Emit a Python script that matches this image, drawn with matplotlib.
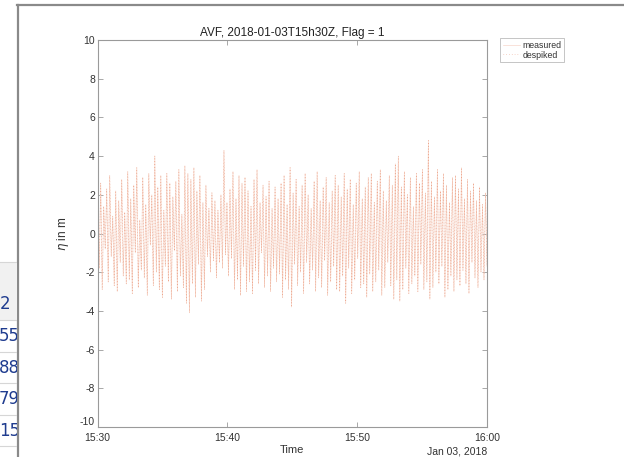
import matplotlib
matplotlib.use("Agg")
import matplotlib.pyplot as plt
import matplotlib.dates as mdates
import numpy as np
import pandas as pd

# ---------------- data ----------------
title = "AVF, 2018-01-03T15h30Z, Flag = 1"
t_start = "2018-01-03 15:30:00"
t_end = "2018-01-03 16:00:00"
eta = [
    2.1,-1.8,2.6,-2.9,1.4,-0.8,2.3,-2.5,3.0,-1.2,0.9,-2.7,2.2,-3.0,1.7,-1.5,2.8,-2.2,1.1,-2.6,
    3.2,-2.4,1.8,-3.1,2.5,-1.0,3.4,-2.8,0.7,-1.9,2.9,-2.3,1.5,-3.2,3.1,-0.6,2.0,-2.7,4.0,-2.0,
    2.4,-2.9,3.0,-3.3,1.2,-1.7,3.1,-2.5,2.6,-3.4,1.9,-0.9,2.7,-3.0,3.3,-2.2,1.0,-2.8,3.5,-3.6,
    3.1,-4.1,2.8,-2.6,3.4,-3.3,2.2,-1.6,3.0,-3.5,1.6,-2.9,2.5,-1.2,1.3,-2.0,2.1,-1.4,1.7,-2.3,
    1.2,-1.5,2.0,-1.8,4.3,-1.1,1.6,-2.2,2.3,-1.3,3.2,-2.9,1.8,-2.4,3.0,-3.2,2.6,-1.7,2.9,-3.0,
    2.2,-2.5,1.4,-3.1,2.8,-1.9,3.3,-2.6,1.6,-1.0,2.5,-2.8,1.9,-2.2,2.7,-3.0,1.3,-1.8,2.4,-2.5,
    1.8,-2.1,2.6,-3.3,3.0,-2.4,1.5,-2.9,3.4,-3.8,2.1,-1.6,2.8,-2.7,1.4,-2.0,2.5,-3.1,3.1,-1.5,
    2.0,-2.6,1.3,-1.9,2.7,-3.0,3.2,-2.3,1.7,-2.8,2.4,-1.4,2.9,-3.2,1.6,-2.5,2.2,-1.7,3.0,-2.9,
    2.5,-3.0,1.9,-2.2,3.1,-3.6,2.3,-1.8,2.8,-3.1,1.5,-2.4,2.6,-1.3,3.2,-2.8,1.8,-2.6,2.4,-3.3,
    2.9,-2.1,3.1,-3.0,1.6,-2.5,2.7,-1.9,3.3,-3.2,2.2,-2.8,1.7,-1.5,3.0,-2.7,2.5,-3.4,3.6,-2.4,
    4.0,-3.5,2.4,-2.9,3.2,-1.8,2.0,-3.1,2.9,-2.6,1.4,-2.2,3.1,-3.0,2.6,-1.6,3.3,-2.9,2.1,-2.5,
    4.8,-3.4,2.7,-2.8,1.9,-2.0,3.3,-2.6,2.2,-1.7,3.1,-3.3,2.5,-2.9,1.6,-2.2,2.9,-3.0,3.0,-2.4,
    2.3,-2.7,3.4,-1.9,1.8,-2.6,2.8,-3.1,2.2,-1.5,2.6,-2.3,1.7,-2.8,2.4,-2.0,1.5,-2.4,2.1,-1.7,
]
y_ticks = [-10, -8, -6, -4, -2, 0, 2, 4, 6, 8, 10]
x_tick_labels = ["15:30", "15:40", "15:50", "16:00"]
date_label = "Jan 03, 2018"
legend_labels = ["measured", "despiked"]
table_header = "2"
table_cells = ["5560", "8821", "7970", "1540"]

# ---------------- figure ----------------
W, H = 624, 457
fig = plt.figure(figsize=(W / 100, H / 100), dpi=100)
plt.rcParams['font.family'] = ['Liberation Sans', 'DejaVu Sans']

times = pd.date_range(t_start, t_end, periods=len(eta))

ax = fig.add_axes([97.7 / W, 1 - 427 / H, (487 - 97.7) / W, (427 - 40) / H])
l1, = ax.plot(times, eta, color="#f7d2c4", lw=0.45)
l2, = ax.plot(times, eta, color="#e68a6a", lw=0.45, alpha=0.85,
              linestyle=(0, (1, 3.5)))

ax.set_xlim(pd.Timestamp(t_start), pd.Timestamp(t_end))
ax.set_ylim(-10, 10)
ax.set_yticks(y_ticks)
ax.set_yticklabels([str(v) for v in y_ticks])
ax.set_xticks(pd.to_datetime(["2018-01-03 " + s for s in x_tick_labels]))
ax.xaxis.set_major_formatter(mdates.DateFormatter("%H:%M"))

axc = "#9a9a9a"
for s in ax.spines.values():
    s.set_color(axc)
    s.set_linewidth(0.8)
ax.tick_params(direction="in", length=3.5, width=0.6, color=axc, labelcolor="#333333",
               labelsize=7.5, top=True, right=True, pad=2)
ax.tick_params(axis="x", pad=4)
ax.get_yticklabels()[0].set_va("bottom")

ax.set_title(title, fontsize=8.5, color="#222222", pad=3)
ax.set_xlabel("Time", fontsize=8, color="#333333", labelpad=2)
ax.set_ylabel(r"$\eta$ in m", fontsize=8.5, color="#333333", labelpad=6)
ax.text(1.0, -0.05, date_label, transform=ax.transAxes, ha="right", va="top",
        fontsize=7.5, color="#333333")

leg = fig.legend([l1, l2], legend_labels, loc="upper left",
                 bbox_to_anchor=(500 / W, 1 - 38 / H), fontsize=6.3,
                 frameon=True, fancybox=False, handlelength=2.0, handletextpad=0.3,
                 borderpad=0.3, labelspacing=0.1, borderaxespad=0)
leg.get_frame().set_edgecolor("#aaaaaa")
leg.get_frame().set_linewidth(0.6)
for txt in leg.get_texts():
    txt.set_color("#333333")

# ---------------- window frame and table fragment ----------------
frame = fig.add_axes([0, 0, 1, 1], zorder=-1)
frame.set_xlim(0, W)
frame.set_ylim(H, 0)
frame.axis("off")
frame.plot([17, W], [4.5, 4.5], color="#8a8a8a", lw=1.6)
frame.plot([18, 18], [4.5, H], color="#8a8a8a", lw=1.6)

tab = fig.add_axes([0, 0, 17 / W, 1])
tab.set_xlim(0, 17)
tab.set_ylim(H, 0)
tab.axis("off")
tab.fill_between([0, 17], 262, 320, color="#f1f1f1", lw=0)
for yy in [262, 320, 352, 383, 415, 446]:
    tab.plot([0, 17], [yy, yy], color="#d6d6d6", lw=0.8)
tab.text(0, 304, table_header, fontsize=12, color="#1f3c8f", va="center", ha="left",
         clip_on=True, family=["DejaVu Sans"])
for yy, s in zip([336, 368, 399, 431], table_cells):
    tab.text(-1, yy, s, fontsize=12, color="#1f3c8f", va="center", ha="left",
             clip_on=True, family=["DejaVu Sans"])

fig.savefig("out.png", dpi=100)
